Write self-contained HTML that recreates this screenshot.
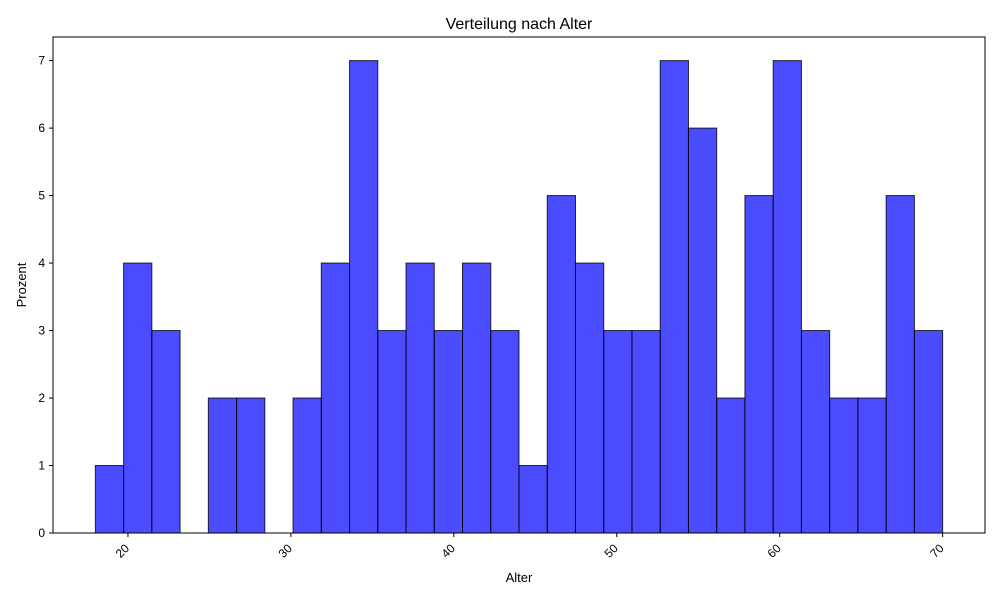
<!DOCTYPE html>
<html><head><meta charset="utf-8"><style>
body{margin:0;background:#fff;font-family:"Liberation Sans","DejaVu Sans",sans-serif;}
</style></head><body>
<svg id="chart" width="1000" height="600" xmlns="http://www.w3.org/2000/svg"></svg>
<script>
const binStart = 18;
const binEnd = 70;
const counts = [1,4,3,0,2,2,0,2,4,7,3,4,3,4,3,1,5,4,3,3,7,6,2,5,7,3,2,2,5,3];
const xTicks = [20,30,40,50,60,70];
const yTicks = [0,1,2,3,4,5,6,7];

const L=53,R=985,T=37,B=533;
const xmin=15.4,xmax=72.6,ymin=0,ymax=7.35;
const sx=v=>L+(v-xmin)/(xmax-xmin)*(R-L);
const sy=v=>B-(v-ymin)/(ymax-ymin)*(B-T);
const svg=document.getElementById('chart');
const NS='http://www.w3.org/2000/svg';
function mk(tag,attrs,parent){const e=document.createElementNS(NS,tag);for(const k in attrs)e.setAttribute(k,attrs[k]);(parent||svg).appendChild(e);return e;}

const bars=mk('g',{});


const bw=(binEnd-binStart)/counts.length;
counts.forEach((c,i)=>{
  const x0=sx(binStart+i*bw),x1=sx(binStart+(i+1)*bw);
  const r=mk('rect',{x:x0,y:sy(c),width:x1-x0,height:sy(0)-sy(c),fill:'rgba(0,0,255,0.7)',stroke:'rgba(0,0,0,0.8)','stroke-width':1},bars);
  
  
});

const frame=mk('rect',{x:L,y:T,width:R-L,height:B-T,fill:'none',stroke:'#000','stroke-width':1});



xTicks.forEach(t=>{
  const x=sx(t);
  mk('line',{x1:x,x2:x,y1:B,y2:B+4,stroke:'#000'});
  const ax=x+2,ay=B+16;
  const tx=mk('text',{x:ax,y:ay,'font-size':12,'text-anchor':'end',transform:`rotate(-45 ${ax} ${ay})`,fill:'#000'});
  tx.textContent=t;
  
  
});
yTicks.forEach(t=>{
  const y=sy(t);
  mk('line',{x1:L-4,x2:L,y1:y,y2:y,stroke:'#000'});
  const tx=mk('text',{x:L-8,y:y+4,'font-size':12,'text-anchor':'end',fill:'#000'});
  tx.textContent=t;
  
  
});

const title=mk('text',{x:(L+R)/2,y:29,'font-size':16,'text-anchor':'middle'});
title.textContent='Verteilung nach Alter';


const xl=mk('text',{x:(L+R)/2,y:582,'font-size':13,'text-anchor':'middle'});
xl.textContent='Alter';


const yl=mk('text',{x:26,y:(T+B)/2,'font-size':13,'text-anchor':'middle',transform:`rotate(-90 26 ${(T+B)/2})`});
yl.textContent='Prozent';


</script>
</body></html>
